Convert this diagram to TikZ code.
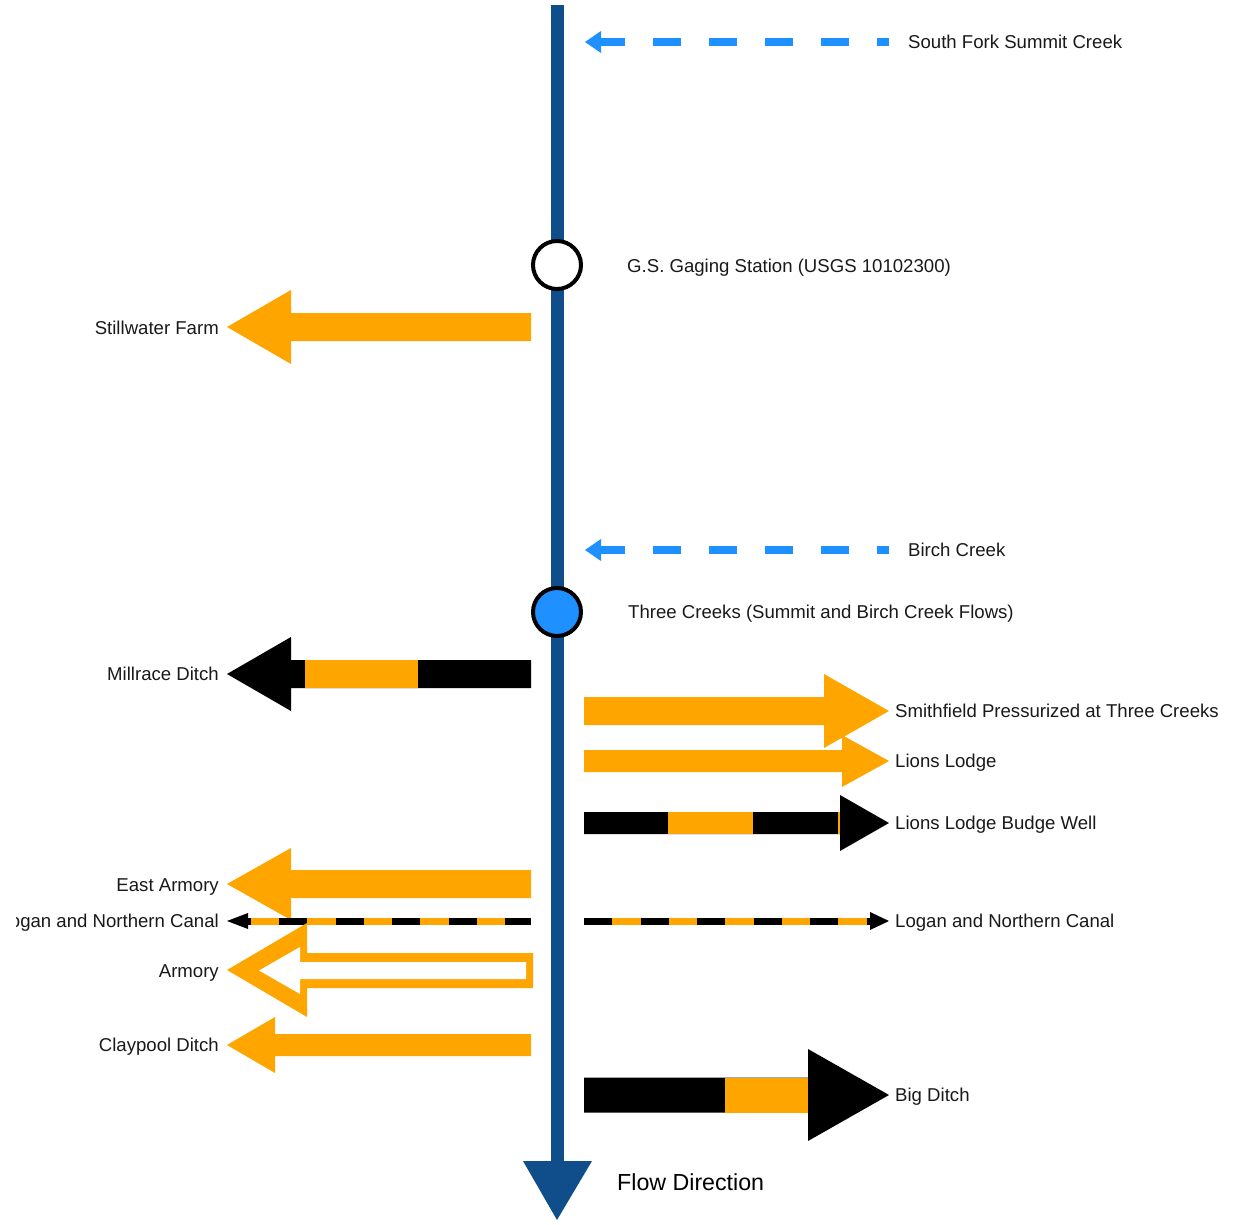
\documentclass[tikz,border=0pt]{standalone}
\usepackage{fontspec}
\setmainfont{Liberation Sans}
\definecolor{flowblue}{HTML}{104E8B}
\definecolor{creekblue}{HTML}{1E90FF}
\definecolor{ditchorange}{HTML}{FFA500}
% #1 tail x, #2 head base x, #3 tip x, #4 y, #5 shaft half height, #6 head half height, #7 colour
\newcommand\myBlockArrow[7]{\fill[#7] (#1,#4-#5) -- (#2,#4-#5) -- (#2,#4-#6) -- (#3,#4) -- (#2,#4+#6) -- (#2,#4+#5) -- (#1,#4+#5) -- cycle;}
\tikzset{
  lbl/.style={font=\fontsize{18.6}{22}\selectfont, inner sep=0pt, text height=13.3pt, text depth=0pt, text=black!90},
  lblR/.style={lbl, anchor=west},
  lblL/.style={lbl, anchor=east},
  station/.style={circle, draw=black, line width=4pt, minimum size=48pt, inner sep=0pt},
  creekline/.style={creekblue, line width=8pt, dash pattern=on 28pt off 28pt, dash phase=16pt},
  canalbase/.style={ditchorange, line width=7pt},
  canaldash/.style={black, line width=7pt, dash pattern=on 28pt off 28.5pt},
}
\begin{document}
\begin{tikzpicture}[x=1pt,y=-1pt]
\useasboundingbox (0,0) rectangle (1243,1225);

% main stream
\coordinate (top) at (557,5);
\coordinate (bot) at (557,1162);
\draw[flowblue, line width=13pt] (top) -- (bot);
\fill[flowblue] (523,1161) -- (592,1161) -- (557,1220) -- cycle;
\node[font=\fontsize{23.2}{27}\selectfont, inner sep=0pt, text height=16.6pt, text depth=0pt, anchor=west] (lFlow) at (617,1182) {Flow Direction};

% creeks (inflows)
\coordinate (sfA) at (889,42); \coordinate (sfB) at (601,42);
\draw[creekline] (sfA) -- (sfB);
\fill[creekblue] (601,31) -- (585,42) -- (601,53) -- cycle;
\node[lblR] (lSouthFork) at (908,42) {South Fork Summit Creek};

\coordinate (bcA) at (889,550); \coordinate (bcB) at (601,550);
\draw[creekline] (bcA) -- (bcB);
\fill[creekblue] (601,539) -- (585,550) -- (601,561) -- cycle;
\node[lblR] (lBirch) at (908,550) {Birch Creek};

% stations
\node[station, fill=white] (gs) at (557,265) {};
\node[lblR] (lGaging) at (627,266) {G.S. Gaging Station (USGS 10102300)};
\node[station, fill=creekblue] (tc) at (557,612) {};
\node[lblR] (lThree) at (628,612) {Three Creeks (Summit and Birch Creek Flows)};

% Stillwater Farm
\myBlockArrow{531}{291}{227}{327}{14}{37}{ditchorange}
\node[lblL] (lStill) at (219,328) {Stillwater Farm};

% Millrace Ditch
\myBlockArrow{531}{291}{227}{674}{14}{37}{black}
\fill[ditchorange] (305,660) rectangle (418,688);
\node[lblL] (lMill) at (219,674) {Millrace Ditch};

% Smithfield Pressurized
\myBlockArrow{584}{824}{889}{711}{14}{37}{ditchorange}
\node[lblR] (lSmith) at (895,711) {Smithfield Pressurized at Three Creeks};

% Lions Lodge
\myBlockArrow{584}{842}{889}{761}{11}{26}{ditchorange}
\node[lblR] (lLions) at (895,761) {Lions Lodge};

% Lions Lodge Budge Well
\myBlockArrow{584}{840}{889}{823}{11}{28}{black}
\fill[ditchorange] (668,812) rectangle (753,834);
\fill[ditchorange] (838,812) rectangle (840,834);
\node[lblR] (lBudge) at (895,823) {Lions Lodge Budge Well};

% East Armory
\myBlockArrow{531}{291}{227}{884}{14}{36}{ditchorange}
\node[lblL] (lEast) at (219,885) {East Armory};

% Logan and Northern Canal (left)
\coordinate (lnL1) at (531,921); \coordinate (lnL2) at (246,921);
\draw[canalbase] (lnL1) -- (lnL2);
\draw[canaldash, dash phase=2pt] (lnL1) -- (lnL2);
\fill[black] (248,913) -- (227,921) -- (248,929) -- cycle;
\begin{scope}
  \clip (16,895) rectangle (225,945);
  \node[lblL] (lLoganL) at (219,921) {Logan and Northern Canal};
\end{scope}

% Logan and Northern Canal (right)
\coordinate (lnR1) at (584,921); \coordinate (lnR2) at (872,921);
\draw[canalbase] (lnR1) -- (lnR2);
\draw[canaldash] (lnR1) -- (lnR2);
\fill[black] (870,912) -- (889,921) -- (870,930) -- cycle;
\node[lblR] (lLoganR) at (895,921) {Logan and Northern Canal};

% Armory (outlined arrow)
\fill[ditchorange] (533,953) -- (307,953) -- (307,923) -- (227,970) -- (307,1017) -- (307,988) -- (533,988) -- cycle;
\fill[white] (526,962) -- (300,962) -- (300,947) -- (259,970.5) -- (300,994) -- (300,979) -- (526,979) -- cycle;
\node[lblL] (lArmory) at (219,971) {Armory};

% Claypool Ditch
\myBlockArrow{531}{275}{227}{1045}{11}{28}{ditchorange}
\node[lblL] (lClay) at (219,1045) {Claypool Ditch};

% Big Ditch
\myBlockArrow{584}{808}{889}{1095}{17.5}{46}{black}
\fill[ditchorange] (725,1077.5) rectangle (808,1112.5);
\node[lblR] (lBig) at (895,1095) {Big Ditch};

\end{tikzpicture}
\end{document}
